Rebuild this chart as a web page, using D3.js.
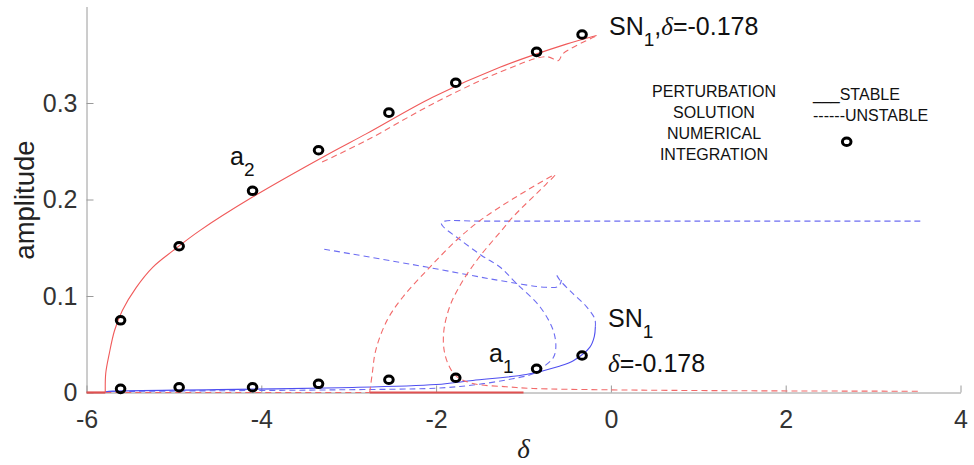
<!DOCTYPE html>
<html>
<head>
<meta charset="utf-8">
<script src="https://cdn.jsdelivr.net/npm/d3@7"></script>
<style>
  body { margin: 0; background: #fff; }
  svg { display: block; }
</style>
</head>
<body>
<svg id="chart" width="974" height="465"></svg>
<script>
// ---- axis ticks ----
const xTicks = [-6, -4, -2, 0, 2, 4];
const yTicks = [0, 0.1, 0.2, 0.3];

// ---- a2 branch (red): [delta, amplitude] ----
const a2Stable = [[-5.785,0],[-5.78,0.0197],[-5.74,0.040],[-5.68,0.064],[-5.59,0.085],[-5.43,0.109],
  [-5.24,0.130],[-5.01,0.147],[-4.70,0.168],[-4.10,0.2025],[-3.22,0.2477],[-2.80,0.268],
  [-2.04,0.306],[-1.27,0.337],[-0.51,0.361],[-0.164,0.370]];
const a2Unstable = [[-0.18,0.369],[-0.55,0.351],[-0.60,0.344],[-0.74,0.348],[-1.27,0.332],
  [-2.04,0.299],[-2.80,0.261],[-3.31,0.2386]];
const a2ZeroStableA = [[-6,0],[-5.785,0]];
const a2ZeroStableB = [[-2.76,0],[-1.0,0]];
const a2ZeroUnstable = [[-5.785,0],[-2.76,0]];
const a2Loop = [[-2.76,0],[-2.73,0.02],[-2.69,0.044],[-2.56,0.075],[-2.38,0.099],[-2.07,0.13],
  [-1.77,0.1575],[-1.50,0.178],[-1.12,0.2007],[-0.64,0.2254],[-0.74,0.216],[-1.12,0.182],
  [-1.25,0.168],[-1.50,0.141],[-1.70,0.115],[-1.84,0.090],[-1.91,0.065],[-1.91,0.045],
  [-1.86,0.029],[-1.77,0.017],[-1.58,0.0093],[-1.2,0.006],[-0.89,0.0042],[-0.05,0.0028],
  [1.5,0.0018],[3.55,0.0013]];

// ---- a1 branch (blue) ----
const a1Stable = [[-5.785,0.0008],[-5.7,0.0014],[-4.5,0.003],[-3.1,0.005],[-2.0,0.0083],
  [-1.58,0.0125],[-0.97,0.0187],[-0.6,0.027],[-0.43,0.033],[-0.24,0.047],[-0.19,0.058],[-0.178,0.068]];
const a1UnstableA = [[-0.178,0.068],[-0.183,0.076],[-0.28,0.089],[-0.44,0.103],[-0.58,0.116],[-0.62,0.1215]];
const a1UnstableB = [[-3.28,0.1485],[-2.11,0.130],[-1.50,0.1197],[-1.27,0.116],[-0.74,0.109],
  [-0.60,0.110],[-0.565,0.1165]];
const a1UnstableC = [[3.54,0.1776],[1.0,0.1776],[-1.5,0.1776],[-1.90,0.1776],[-1.94,0.1755],[-1.92,0.172],[-1.73,0.1586],
  [-1.48,0.142],[-1.27,0.130],[-1.08,0.113],[-0.81,0.0886],[-0.66,0.0644],[-0.63,0.047],
  [-0.66,0.036],[-0.78,0.026],[-0.89,0.0194],[-1.2,0.013],[-1.6,0.0075],[-2.0,0.0045],
  [-3.1,0.0028],[-4.5,0.0018],[-5.78,0.001]];

// ---- numerical integration points ----
const numDelta = [-5.61, -4.94, -4.10, -3.345, -2.54, -1.775, -0.85, -0.33];
const numA2 = [0.0748, 0.1516, 0.209, 0.251, 0.290, 0.321, 0.353, 0.371];
const numA1 = [0.0038, 0.0055, 0.0055, 0.009, 0.0132, 0.0153, 0.0246, 0.0384];

const legendLabels = ["PERTURBATION", "SOLUTION", "NUMERICAL", "INTEGRATION"];
const legendStyles = ["___STABLE", "------UNSTABLE"];

// ---- drawing ----
const svg = d3.select("#chart");
const x = d3.scaleLinear().domain([-6, 4]).range([86.5, 960.5]);
const y = d3.scaleLinear().domain([0, 0.4]).range([392.5, 6.5]);

const SANS = "'Liberation Sans', Arial, Helvetica, sans-serif";
const SERIF = "'Liberation Serif', 'Times New Roman', serif";
const RED = "#f05a5a", RED_D = "#f26a6a", BLUE = "#4f4ff0", BLUE_D = "#6d6df2";

const line = d3.line().x(d => x(d[0])).y(d => y(d[1])).curve(d3.curveCatmullRom.alpha(0.5));
const straight = d3.line().x(d => x(d[0])).y(d => y(d[1]));

// axes (ticks point inward)
const xAxis = svg.append("g").attr("transform", `translate(0,${y(0)})`)
  .call(d3.axisBottom(x).tickValues(xTicks).tickSize(-7).tickSizeOuter(0).tickPadding(18)
    .tickFormat(d => String(d)));
const yAxis = svg.append("g").attr("transform", `translate(${x(-6)},0)`)
  .call(d3.axisLeft(y).tickValues(yTicks).tickSize(-7).tickSizeOuter(0).tickPadding(9)
    .tickFormat(d => d === 0 ? "0" : d3.format(".1f")(d)));
[xAxis, yAxis].forEach(g => {
  g.select(".domain").attr("stroke", "#9a9a9a");
  g.selectAll(".tick line").attr("stroke", "#9a9a9a");
  g.selectAll(".tick text").attr("fill", "#333").style("font-family", SANS).style("font-size", "25px");
});

// curves
function draw(data, color, dashed, width, gen) {
  svg.append("path").datum(data).attr("d", (gen || line))
    .attr("fill", "none").attr("stroke", color).attr("stroke-width", width || 1)
    .attr("stroke-dasharray", dashed ? "6,4" : null);
}
draw(a2ZeroUnstable, RED_D, true, 1.2, straight);
draw(a1UnstableC, BLUE_D, true, 1.1);
draw(a1Stable, BLUE, false, 1.1);
draw(a1UnstableA, BLUE_D, true, 1.1);
draw(a1UnstableB, BLUE_D, true, 1.1);
draw(a2Loop, RED_D, true, 1.1);
draw(a2Stable, RED, false, 1.1);
draw(a2Unstable, RED_D, true, 1.1);
draw(a2ZeroStableA, "#e05050", false, 2.2, straight);
draw(a2ZeroStableB, "#e05050", false, 2.2, straight);

// numerical integration markers
const pts = numDelta.map((d, i) => [d, numA2[i]]).concat(numDelta.map((d, i) => [d, numA1[i]]));
svg.append("g").selectAll("ellipse").data(pts).join("ellipse")
  .attr("cx", d => x(d[0])).attr("cy", d => y(d[1]))
  .attr("rx", 4.3).attr("ry", 3.8)
  .attr("fill", "none").attr("stroke", "#000").attr("stroke-width", 3);

// axis titles
svg.append("text").attr("transform", "translate(34,200) rotate(-90)")
  .attr("text-anchor", "middle").attr("fill", "#222")
  .style("font-family", SANS).style("font-size", "27.5px").text("amplitude");
svg.append("text").attr("x", (x(-6) + x(4)) / 2).attr("y", 458)
  .attr("text-anchor", "middle").attr("fill", "#222")
  .style("font-family", SERIF).style("font-style", "italic").style("font-size", "27px").text("δ");

// annotations
function subLabel(px, py, main, sub, rest) {
  const t = svg.append("text").attr("x", px).attr("y", py).attr("fill", "#111")
    .style("font-family", SANS).style("font-size", "25px");
  t.append("tspan").text(main);
  t.append("tspan").attr("dy", 11).style("font-size", "19px").text(sub);
  if (rest) {
    t.append("tspan").attr("dy", -11).text(",");
    t.append("tspan").style("font-family", SERIF).style("font-style", "italic").text("δ");
    t.append("tspan").text(rest);
  }
  return t;
}
subLabel(609, 35, "SN", "1", "=-0.178");
subLabel(230, 165, "a", "2");
subLabel(489, 362, "a", "1");
subLabel(608, 327, "SN", "1");
const dl = svg.append("text").attr("x", 608).attr("y", 372).attr("fill", "#111")
  .style("font-family", SANS).style("font-size", "25px");
dl.append("tspan").style("font-family", SERIF).style("font-style", "italic").text("δ");
dl.append("tspan").text("=-0.178");

// legend block
svg.append("g").selectAll("text").data(legendLabels).join("text")
  .attr("x", 714).attr("y", (d, i) => 97 + i * 21).attr("text-anchor", "middle")
  .attr("fill", "#111").style("font-family", SANS).style("font-size", "16px").text(d => d);
svg.append("g").selectAll("text").data(legendStyles).join("text")
  .attr("x", 813).attr("y", (d, i) => 100 + i * 20.7)
  .attr("fill", "#111").style("font-family", SANS).style("font-size", "16px").text(d => d);
svg.append("ellipse").attr("cx", 846.7).attr("cy", 141.7).attr("rx", 4.3).attr("ry", 3.8)
  .attr("fill", "none").attr("stroke", "#000").attr("stroke-width", 3);
</script>
</body>
</html>
